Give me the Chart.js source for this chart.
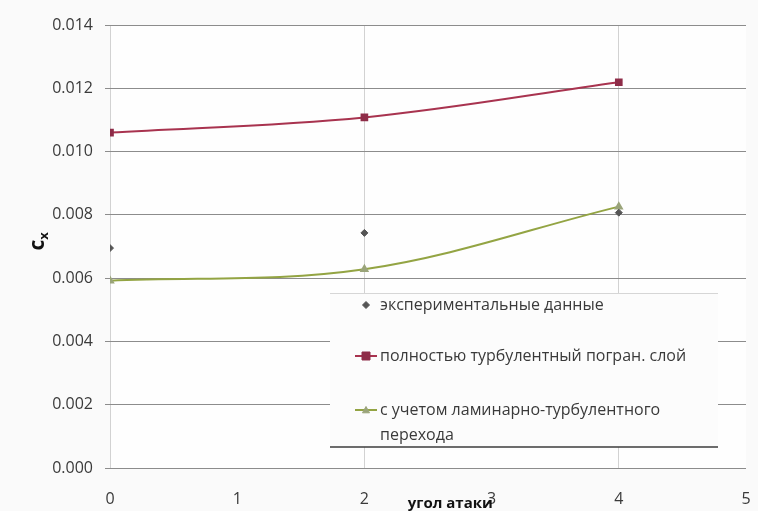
<!DOCTYPE html>
<html>
<head>
<meta charset="utf-8">
<script src="https://cdn.jsdelivr.net/npm/chart.js@4/dist/chart.umd.min.js"></script>
<style>
  html, body { margin: 0; padding: 0; background: #fafafa; }
  canvas { display: block; }
</style>
</head>
<body>
<canvas id="chart" width="758" height="511"></canvas>
<script>
// Angle of attack, degrees
const angles = [0, 2, 4];
// Drag coefficient c_x
const experimental = [0.00695, 0.00743, 0.00807];
const fullyTurbulent = [0.01060, 0.01108, 0.01219];
const withTransition = [0.00592, 0.00628, 0.00826];

const xTicks = [0, 1, 2, 3, 4, 5];
const yTicks = [0, 0.002, 0.004, 0.006, 0.008, 0.010, 0.012, 0.014];

const seriesLabels = [
  'экспериментальные данные',
  'полностью турбулентный погран. слой',
  'с учетом ламинарно-турбулентного\nперехода'
];

const FONT = '"Open Sans", "Noto Sans", sans-serif';
const TEXT = '#3a3a3a';

const toPoints = ys => angles.map((x, i) => ({ x, y: ys[i] }));

function drawMarker(ctx, style, r, x, y) {
  if (style === 'rect') {
    ctx.rect(x - r, y - r, 2 * r, 2 * r);
  } else if (style === 'rectRot') {
    ctx.moveTo(x, y - r); ctx.lineTo(x + r, y); ctx.lineTo(x, y + r); ctx.lineTo(x - r, y); ctx.closePath();
  } else {
    ctx.moveTo(x, y - r); ctx.lineTo(x + r, y + r * 0.8); ctx.lineTo(x - r, y + r * 0.8); ctx.closePath();
  }
}

// Legend drawn as a box inside the plot area
const boxLegend = {
  id: 'boxLegend',
  afterDraw(chart) {
    const { ctx, chartArea: a } = chart;
    const left = a.left + 220, right = a.right - 28;
    const top = a.top + 268, bottom = a.bottom - 21;
    ctx.save();
    ctx.fillStyle = '#fcfcfc';
    ctx.fillRect(left, top, right - left, bottom - top);
    ctx.strokeStyle = '#d6d6d6';
    ctx.lineWidth = 1;
    ctx.beginPath(); ctx.moveTo(left, top + 0.5); ctx.lineTo(right, top + 0.5); ctx.stroke();
    ctx.strokeStyle = '#3c3c3c';
    ctx.lineWidth = 1.5;
    ctx.beginPath(); ctx.moveTo(left, bottom); ctx.lineTo(right, bottom); ctx.stroke();

    const rows = [top + 12, top + 63, top + 117];
    const mx = left + 36;
    ctx.font = '16px ' + FONT;
    ctx.textBaseline = 'middle';
    ctx.textAlign = 'left';
    chart.data.datasets.forEach((ds, i) => {
      const y = rows[i];
      if (ds.showLine) {
        ctx.strokeStyle = ds.borderColor;
        ctx.lineWidth = 2;
        ctx.beginPath(); ctx.moveTo(left + 25, y); ctx.lineTo(left + 47, y); ctx.stroke();
      }
      ctx.fillStyle = ds.pointBackgroundColor;
      ctx.strokeStyle = ds.pointBorderColor;
      ctx.lineWidth = 1;
      ctx.beginPath();
      drawMarker(ctx, ds.pointStyle, ds.pointRadius, mx, y);
      ctx.fill(); ctx.stroke();
      ctx.fillStyle = TEXT;
      ds.label.split('\n').forEach((line, k) => {
        ctx.fillText(line, left + 50, y + k * 25);
      });
    });
    ctx.restore();
  }
};

// Axis titles
const axisTitles = {
  id: 'axisTitles',
  afterDraw(chart) {
    const { ctx, chartArea: a } = chart;
    ctx.save();
    ctx.fillStyle = '#111';
    ctx.font = 'bold 15px ' + FONT;
    ctx.textAlign = 'center';
    ctx.textBaseline = 'middle';
    ctx.fillText('угол атаки', a.left + 0.535 * (a.right - a.left), a.bottom + 36);

    ctx.translate(38, a.top + 0.49 * (a.bottom - a.top));
    ctx.rotate(-Math.PI / 2);
    ctx.textAlign = 'left';
    ctx.font = 'bold 21px ' + FONT;
    const cw = ctx.measureText('c').width;
    ctx.fillText('c', -cw / 2 - 3, 0);
    ctx.font = 'bold 13px ' + FONT;
    ctx.fillText('x', cw / 2 - 3, 6);
    ctx.restore();
  }
};

const bg = {
  id: 'bg',
  beforeDraw(chart) {
    const { ctx, width, height } = chart;
    ctx.save();
    ctx.fillStyle = '#fafafa';
    ctx.fillRect(0, 0, width, height);
    ctx.fillStyle = '#fefefe';
    const a = chart.chartArea;
    ctx.fillRect(a.left, a.top, a.right - a.left, a.bottom - a.top);
    ctx.restore();
  }
};

new Chart(document.getElementById('chart'), {
  type: 'scatter',
  data: {
    datasets: [
      {
        label: seriesLabels[0],
        data: toPoints(experimental),
        showLine: false,
        pointStyle: 'rectRot',
        pointRadius: 3.5,
        pointBackgroundColor: '#555555',
        pointBorderColor: '#555555',
        borderColor: '#555555'
      },
      {
        label: seriesLabels[1],
        data: toPoints(fullyTurbulent),
        showLine: true,
        tension: 0.35,
        borderColor: '#a8334f',
        borderWidth: 2,
        pointStyle: 'rect',
        pointRadius: 4,
        pointBackgroundColor: '#8e2c48',
        pointBorderColor: '#8e2c48'
      },
      {
        label: seriesLabels[2],
        data: toPoints(withTransition),
        showLine: true,
        tension: 0.35,
        borderColor: '#93a443',
        borderWidth: 2,
        pointStyle: 'triangle',
        pointRadius: 3.5,
        pointBackgroundColor: '#9aa47a',
        pointBorderColor: '#9aa47a'
      }
    ]
  },
  options: {
    responsive: false,
    animation: false,
    devicePixelRatio: 1,
    layout: { padding: { left: 0, top: 25, right: 12, bottom: 0 } },
    plugins: { legend: { display: false }, tooltip: { enabled: false } },
    scales: {
      x: {
        type: 'linear',
        min: xTicks[0],
        max: xTicks[xTicks.length - 1],
        afterBuildTicks: s => { s.ticks = xTicks.map(v => ({ value: v })); },
        afterFit: s => { s.height = 43; s.paddingRight = 0; s.paddingLeft = 0; },
        border: { display: false },
        grid: {
          drawTicks: false,
          lineWidth: 1,
          color: c => (c.tick && c.tick.value % 2 === 0 && c.tick.value < 5) ? '#d2d2d2' : 'rgba(0,0,0,0)'
        },
        ticks: { padding: 22, color: TEXT, font: { family: FONT, size: 16 } }
      },
      y: {
        min: yTicks[0],
        max: yTicks[yTicks.length - 1],
        afterBuildTicks: s => { s.ticks = yTicks.map(v => ({ value: v })); },
        afterFit: s => { s.width = 110; s.paddingTop = 0; s.paddingBottom = 0; },
        border: { display: false },
        grid: { color: '#8c8c8c', lineWidth: 1, tickLength: 5, tickColor: '#8c8c8c' },
        ticks: {
          padding: 12,
          color: TEXT,
          font: { family: FONT, size: 16 },
          callback: v => Number(v).toFixed(3)
        }
      }
    }
  },
  plugins: [bg, boxLegend, axisTitles]
});
</script>
</body>
</html>
